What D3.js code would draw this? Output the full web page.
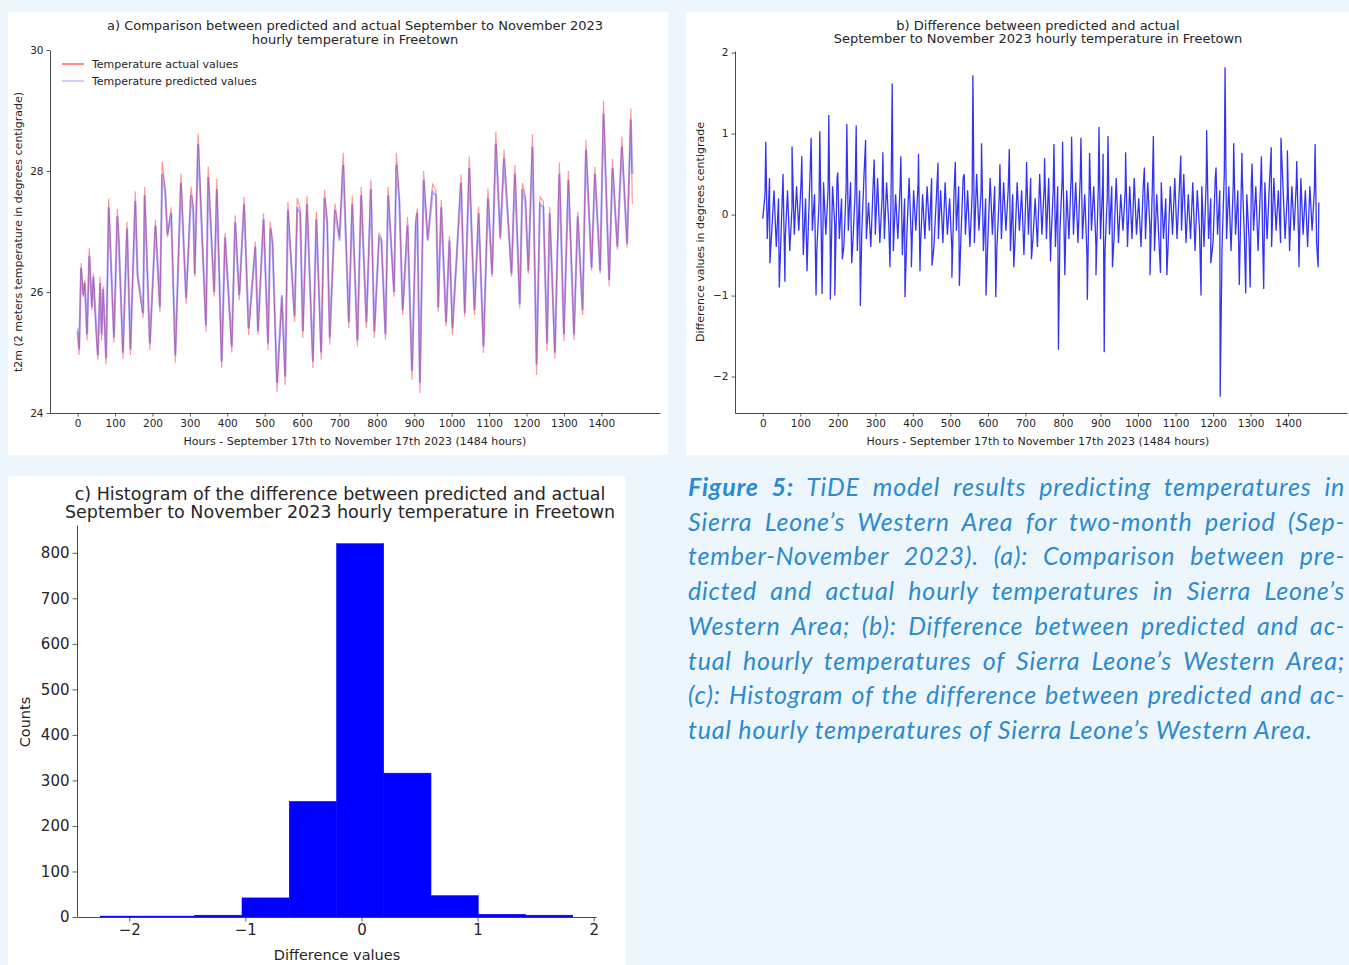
<!DOCTYPE html>
<html>
<head>
<meta charset="utf-8">
<script src="https://cdn.jsdelivr.net/npm/d3@7"></script>
<style>
  body { margin: 0; background: #eef6fd; }
  #wrap { position: relative; width: 1349px; height: 965px; overflow: hidden; }
  svg { position: absolute; left: 0; top: 0; }
  svg text { font-family: "DejaVu Sans", sans-serif; fill: #262626; }
  #caption { position: absolute; left: 688px; top: 469px; width: 657px;
    font-family: Lato, "Open Sans", sans-serif; font-style: italic; font-size: 25px;
    letter-spacing: 0.8px; line-height: 34.7px; color: #2b8ad0; }
  #caption .ln { text-align: justify; text-align-last: justify; white-space: nowrap; }
  #caption .ln.last { text-align-last: left; }
</style>
</head>
<body>
<div id="wrap">
<svg id="chart" width="1349" height="965"></svg>
<div id="caption"></div>
</div>
<script>
// panel a: hourly temperature at peaks and troughs
const hours = [0,4,9,15,19,25,31,38,42,50,54,60,64,68,76,83,97,106,110,121,
  132,141,154,160,175,179,193,208,220,226,234,240,250,261,276,290,303,309,313,322,
  343,349,365,372,385,394,412,421,432,445,457,475,482,497,509,515,521,533,546,555,
  562,580,587,595,602,613,629,638,651,660,667,674,688,700,710,725,734,748,758,772,
  784,793,806,812,823,830,846,852,860,869,882,894,904,908,915,925,936,949,958,964,
  972,985,994,1002,1025,1035,1047,1061,1072,1085,1097,1108,1118,1130,1140,1160,1169,1182,1189,1197,
  1205,1216,1227,1236,1245,1255,1262,1276,1288,1300,1312,1327,1337,1350,1359,1374,1383,1397,1406,1421,
  1430,1443,1455,1469,1479,1483];
const actual = [25.4,24.96,26.48,25.92,26.2,25.2,26.73,25.7,26.3,25.26,
  24.88,26.25,25.2,26.1,24.8,27.55,25.16,27.37,26.9,24.9,
  27.16,24.96,27.66,26.25,25.57,27.74,25.04,27.19,25.67,28.15,
  27.74,26.9,27.4,24.83,27.96,25.8,27.74,27.4,26.25,28.62,
  25.34,28.07,25.92,27.87,24.74,26.97,25.0,27.27,25.86,27.57,
  25.29,26.83,25.29,27.3,25.04,27.16,26.83,24.35,25.92,24.46,
  27.49,25.51,27.55,27.38,25.24,27.59,24.74,27.33,24.88,27.69,
  27.2,25.13,27.46,26.9,28.3,25.4,27.6,25.1,27.74,25.4,
  27.86,25.24,26.97,26.9,25.21,27.74,25.92,28.3,27.57,25.62,
  27.24,24.55,27.21,27.38,24.33,28.0,26.87,27.78,27.68,25.67,
  27.52,25.43,26.93,25.29,27.94,25.59,28.24,25.62,27.41,24.99,
  27.71,26.25,28.65,26.87,28.35,26.25,28.1,25.73,27.8,27.6,
  26.3,28.61,24.63,27.57,27.5,25.03,27.41,24.9,28.14,25.19,
  28.0,25.21,27.33,25.62,28.51,26.35,28.07,26.3,29.16,26.1,
  28.2,26.7,28.57,26.73,29.03,27.45];
const predicted = [25.35,25.05,26.4,25.95,26.15,25.3,26.6,25.75,26.25,25.35,
  24.95,26.15,25.3,26.05,24.9,27.4,25.25,27.25,26.85,25.0,
  27.05,25.05,27.5,26.3,25.65,27.6,25.15,27.1,25.75,27.95,
  27.65,26.95,27.3,24.95,27.8,25.9,27.6,27.35,26.3,28.45,
  25.45,27.9,26.0,27.7,24.85,26.9,25.1,27.15,25.95,27.45,
  25.4,26.75,25.35,27.2,25.15,27.05,26.8,24.5,25.95,24.6,
  27.35,25.6,27.4,27.3,25.35,27.45,24.85,27.2,25.0,27.55,
  27.15,25.25,27.35,26.85,28.1,25.5,27.45,25.2,27.6,25.5,
  27.7,25.35,26.9,26.85,25.3,27.6,26.0,28.1,27.5,25.7,
  27.1,24.7,27.1,27.3,24.5,27.85,26.85,27.65,27.6,25.75,
  27.4,25.5,26.85,25.4,27.8,25.65,28.05,25.7,27.3,25.1,
  27.55,26.3,28.45,26.9,28.2,26.3,27.95,25.8,27.7,27.5,
  26.35,28.4,24.8,27.45,27.4,25.15,27.3,25.0,27.95,25.3,
  27.85,25.3,27.25,25.7,28.35,26.4,27.95,26.35,28.95,26.2,
  28.05,26.75,28.4,26.8,28.85,27.95];

// panel b: difference, every 6 hours plus the visible spikes
const diffStep = 6;
const diffBase = [-0.05,0.25,-0.3,0.45,-0.2,0.3,-0.4,0.2,-0.35,0.5,
  -0.3,0.3,-0.45,0.1,-0.25,0.35,-0.2,0.4,-0.5,0.2,
  -0.35,0.5,-0.2,0.25,-0.45,0.15,-0.3,0.4,-0.25,0.3,
  -0.5,0.35,-0.15,0.45,-0.3,0.2,-0.4,0.3,-0.2,0.4,
  -0.35,0.25,-0.45,0.3,-0.2,0.5,-0.3,0.15,-0.4,0.35,
  -0.25,0.45,-0.35,0.2,-0.3,0.4,-0.15,0.3,-0.45,0.25,
  -0.3,0.35,-0.5,0.2,-0.25,0.45,-0.35,0.3,-0.2,0.4,
  -0.45,0.25,-0.3,0.35,-0.2,0.45,-0.4,0.15,-0.3,0.3,
  -0.35,0.4,-0.25,0.2,-0.45,0.3,-0.2,0.35,-0.3,0.45,
  -0.25,0.3,-0.4,0.25,-0.35,0.5,-0.2,0.3,-0.45,0.2,
  -0.3,0.45,-0.25,0.35,-0.4,0.2,-0.3,0.4,-0.2,0.3,
  -0.45,0.25,-0.35,0.4,-0.2,0.3,-0.5,0.35,-0.25,0.45,
  -0.3,0.2,-0.4,0.5,-0.25,0.35,-0.3,0.45,-0.35,0.3,
  -0.4,0.35,-0.2,0.45,-0.45,0.3,-0.3,0.5,-0.25,0.4,
  -0.35,0.45,-0.3,0.25,-0.5,0.4,-0.2,0.35,-0.4,0.3,
  -0.3,0.4,-0.45,0.2,-0.25,0.35,-0.3,0.45,-0.35,0.25,
  -0.2,0.3,-0.4,0.35,-0.3,0.45,-0.25,0.2,-0.4,0.35,
  -0.3,0.4,-0.2,0.3,-0.45,0.25,-0.35,0.4,-0.3,0.2,
  -0.4,0.35,-0.25,0.45,-0.3,0.3,-0.2,0.5,-0.35,0.25,
  -0.3,0.4,-0.45,0.3,-0.2,0.35,-0.4,0.45,-0.3,0.2,
  -0.35,0.45,-0.25,0.3,-0.4,0.5,-0.3,0.35,-0.45,0.4,
  -0.25,0.3,-0.4,0.45,-0.35,0.25,-0.3,0.4,-0.2,0.35,
  -0.45,0.3,-0.25,0.4,-0.3,0.35,-0.4,0.45,-0.2,0.3,
  -0.35,0.4,-0.3,0.25,-0.45,0.35,-0.2,0.4,-0.3,0.45,
  -0.25,0.3,-0.4,0.35,-0.2,0.3,-0.35,0.15];
const spikeHours = [8,19,44,59,78,104,118,129,142,152,158,176,180,192,200,212,224,237,249,260,
  274,297,320,339,345,368,379,396,415,419,451,467,504,513,524,537,560,583,595,621,
  632,657,669,703,716,751,767,776,788,799,805,823,848,865,871,888,896,907,910,920,
  932,967,1017,1032,1041,1060,1077,1114,1168,1183,1194,1208,1219,1232,1255,1270,1277,1287,1299,1304,
  1329,1335,1355,1381,1398,1423,1429,1472,1480];
const spikeValues = [0.9,-0.6,-0.9,-0.83,0.84,0.72,-0.7,0.95,-1.0,1.03,-0.98,1.23,-1.05,-1.0,0.52,-0.55,1.12,-0.6,1.1,-1.13,
  0.92,0.68,0.77,-0.65,1.62,0.72,-1.02,-0.65,0.75,-0.7,-0.63,0.64,-0.78,0.65,-0.88,0.5,1.72,0.88,-1.0,-1.02,
  0.62,0.81,-0.65,0.65,-0.55,0.7,-0.58,0.87,-1.67,0.9,-0.75,0.96,0.95,-1.05,0.76,-0.75,1.08,0.75,-1.7,0.97,
  -0.65,0.77,0.58,-0.75,0.97,-0.72,-0.75,0.73,-1.0,1.04,-0.6,0.58,-2.25,1.82,0.88,-0.87,0.76,-0.97,-0.9,0.63,
  0.72,-0.92,0.83,0.95,0.79,0.66,-0.65,0.87,-0.65];

// panel c: histogram of the differences
const binEdges = [-2.25,-1.843,-1.436,-1.029,-0.622,-0.215,0.192,0.599,1.006,1.413,1.82];
const binCounts = [2,2,4,42,254,820,316,47,6,4];

const hourTicks = d3.range(0, 1401, 100);
const tempTicks = [24, 26, 28, 30];
const diffTicks = [-2, -1, 0, 1, 2];
const countTicks = d3.range(0, 801, 100);

const svg = d3.select('#chart');

// white panels
const panels = [[8, 12, 660, 443], [686, 12, 663, 443], [8, 476, 617, 489]];
svg.selectAll('rect.panel').data(panels).enter().append('rect')
  .attr('class', 'panel')
  .attr('x', d => d[0]).attr('y', d => d[1])
  .attr('width', d => d[2]).attr('height', d => d[3])
  .attr('fill', '#ffffff');

function styleAxis(g, fs) {
  g.selectAll('path.domain').attr('stroke', '#333').attr('stroke-width', 0.9);
  g.selectAll('.tick line').attr('stroke', '#333').attr('stroke-width', 0.8);
  g.selectAll('.tick text').attr('font-family', '"DejaVu Sans", sans-serif')
    .attr('font-size', fs).attr('fill', '#262626');
}

function title(lines, cx, y0, dy, fs) {
  lines.forEach((t, i) => {
    svg.append('text').attr('x', cx).attr('y', y0 + i * dy)
      .attr('text-anchor', 'middle').attr('font-size', fs).text(t);
  });
}

function yLabel(t, x, cy, fs) {
  svg.append('text').attr('transform', `translate(${x},${cy}) rotate(-90)`)
    .attr('text-anchor', 'middle').attr('font-size', fs).text(t);
}

const fmt = d3.format('d');

// ---------- panel a ----------
const xA = d3.scaleLinear().domain([-74, 1557]).range([50, 660]);
const yA = d3.scaleLinear().domain([24, 30]).range([413, 50]);
const seriesA = hours.map((h, i) => ({ h: h, a: actual[i], p: predicted[i] }));

svg.append('path').datum(seriesA)
  .attr('fill', 'none').attr('stroke', '#ff0000').attr('stroke-width', 1.2)
  .attr('stroke-opacity', 0.4)
  .attr('d', d3.line().x(d => xA(d.h)).y(d => yA(d.a)));
svg.append('path').datum(seriesA)
  .attr('fill', 'none').attr('stroke', '#0000ff').attr('stroke-width', 2.2)
  .attr('stroke-opacity', 0.3)
  .attr('d', d3.line().x(d => xA(d.h)).y(d => yA(d.p)));

svg.append('g').attr('transform', 'translate(0,413)')
  .call(d3.axisBottom(xA).tickValues(hourTicks).tickFormat(fmt).tickSize(3.5).tickPadding(3).tickSizeOuter(0))
  .call(g => styleAxis(g, 10.5));
svg.append('g').attr('transform', 'translate(50,0)')
  .call(d3.axisLeft(yA).tickValues(tempTicks).tickFormat(fmt).tickSize(3.5).tickPadding(3).tickSizeOuter(0))
  .call(g => styleAxis(g, 10.5));

title(['a) Comparison between predicted and actual September to November 2023',
  'hourly temperature in Freetown'], 355, 29.5, 14, 13);
svg.append('text').attr('x', 355).attr('y', 445).attr('text-anchor', 'middle')
  .attr('font-size', 11).text('Hours - September 17th to November 17th 2023 (1484 hours)');
yLabel('t2m (2 meters temperature in degrees centigrade)', 22, 232, 11);

// legend
const legendA = [['Temperature actual values', '#ff0000', 0.7],
  ['Temperature predicted values', '#0000ff', 0.3]];
legendA.forEach((l, i) => {
  const ly = 64 + i * 17;
  svg.append('line').attr('x1', 62).attr('x2', 84).attr('y1', ly).attr('y2', ly)
    .attr('stroke', l[1]).attr('stroke-opacity', l[2]).attr('stroke-width', 1.3);
  svg.append('text').attr('x', 92).attr('y', ly + 4).attr('font-size', 11).text(l[0]);
});

// ---------- panel b ----------
const xB = d3.scaleLinear().domain([-74, 1557]).range([735, 1347]);
const yB = d3.scaleLinear().domain([-2.45, 2.02]).range([413, 51]);
const seriesB = diffBase.map((v, i) => ({ h: i * diffStep, v: v }))
  .concat(spikeHours.map((h, i) => ({ h: h, v: spikeValues[i] })))
  .sort((a, b) => a.h - b.h);

svg.append('path').datum(seriesB)
  .attr('fill', 'none').attr('stroke', '#0000ee').attr('stroke-width', 1.3)
  .attr('stroke-opacity', 0.8)
  .attr('d', d3.line().x(d => xB(d.h)).y(d => yB(d.v)));

svg.append('g').attr('transform', 'translate(0,413)')
  .call(d3.axisBottom(xB).tickValues(hourTicks).tickFormat(fmt).tickSize(3.5).tickPadding(3).tickSizeOuter(0))
  .call(g => styleAxis(g, 10.5));
svg.append('g').attr('transform', 'translate(735,0)')
  .call(d3.axisLeft(yB).tickValues(diffTicks).tickFormat(fmt).tickSize(3.5).tickPadding(3).tickSizeOuter(0))
  .call(g => styleAxis(g, 10.5));

title(['b) Difference between predicted and actual',
  'September to November 2023 hourly temperature in Freetown'], 1038, 29.5, 13.5, 13);
svg.append('text').attr('x', 1038).attr('y', 445).attr('text-anchor', 'middle')
  .attr('font-size', 11).text('Hours - September 17th to November 17th 2023 (1484 hours)');
yLabel('Difference values in degrees centigrade', 704, 232, 11);

// ---------- panel c ----------
const xC = d3.scaleLinear().domain([-2.45, 2.02]).range([77, 596]);
const yC = d3.scaleLinear().domain([0, 861]).range([917, 525]);
const bins = binCounts.map((c, i) => ({ x0: binEdges[i], x1: binEdges[i + 1], c: c }));

svg.selectAll('rect.bin').data(bins).enter().append('rect')
  .attr('class', 'bin')
  .attr('x', d => xC(d.x0)).attr('width', d => xC(d.x1) - xC(d.x0))
  .attr('y', d => yC(d.c)).attr('height', d => yC(0) - yC(d.c))
  .attr('fill', '#0000ff').attr('stroke', '#0000ff').attr('stroke-width', 0.5);

svg.append('g').attr('transform', 'translate(0,917)')
  .call(d3.axisBottom(xC).tickValues(diffTicks).tickFormat(fmt).tickSize(4.5).tickPadding(3).tickSizeOuter(0))
  .call(g => styleAxis(g, 15));
svg.append('g').attr('transform', 'translate(77,0)')
  .call(d3.axisLeft(yC).tickValues(countTicks).tickFormat(fmt).tickSize(4.5).tickPadding(3).tickSizeOuter(0))
  .call(g => styleAxis(g, 15));

title(['c) Histogram of the difference between predicted and actual',
  'September to November 2023 hourly temperature in Freetown'], 340, 499.5, 18, 17.5);
svg.append('text').attr('x', 337).attr('y', 960).attr('text-anchor', 'middle')
  .attr('font-size', 14.5).text('Difference values');
yLabel('Counts', 30, 722, 14.5);

// ---------- caption ----------
const captionLines = [
  '<b>Figure 5:</b> TiDE model results predicting temperatures in',
  'Sierra Leone\u2019s Western Area for two-month period (Sep-',
  'tember-November 2023). (a): Comparison between pre-',
  'dicted and actual hourly temperatures in Sierra Leone\u2019s',
  'Western Area; (b): Difference between predicted and ac-',
  'tual hourly temperatures of Sierra Leone\u2019s Western Area;',
  '(c): Histogram of the difference between predicted and ac-',
  'tual hourly temperatures of Sierra Leone\u2019s Western Area.'
];
d3.select('#caption').selectAll('div').data(captionLines).enter().append('div')
  .attr('class', (d, i) => i === captionLines.length - 1 ? 'ln last' : 'ln')
  .html(d => d);
</script>
</body>
</html>
